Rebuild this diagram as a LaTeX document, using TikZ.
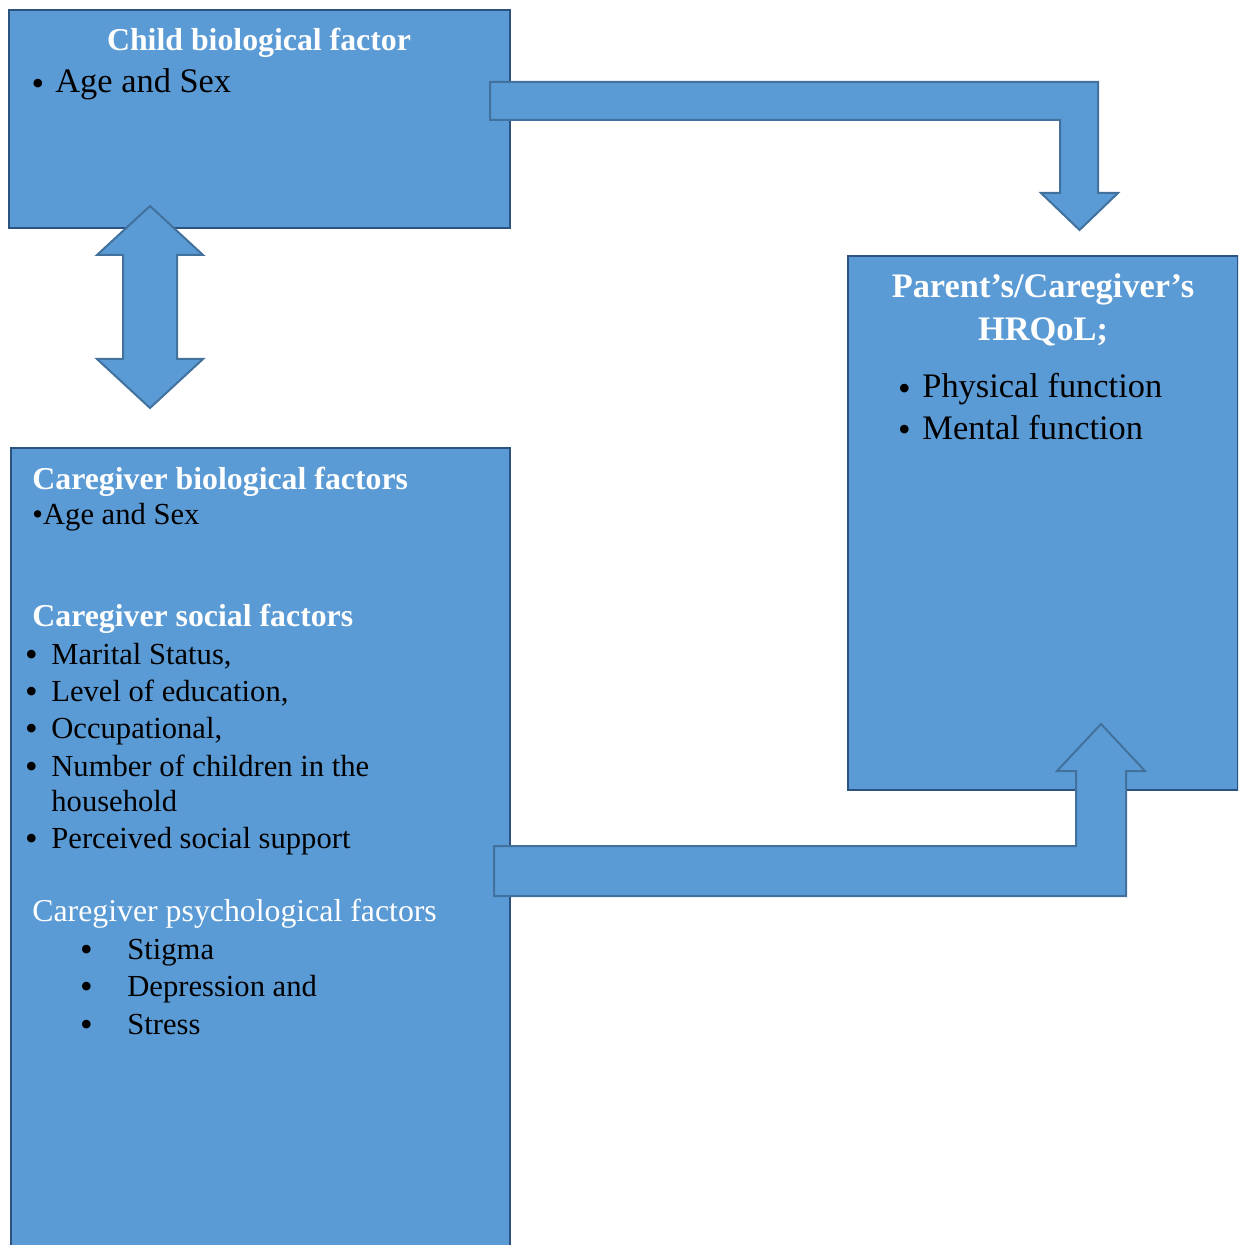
\documentclass[tikz,border=0pt]{standalone}
\usepackage{fontspec}
\setmainfont{Liberation Serif}
\usetikzlibrary{positioning}
\definecolor{sky}{RGB}{91,155,213}
\definecolor{deepsea}{RGB}{44,82,128}
\definecolor{steel}{RGB}{65,113,156}
\newcommand{\itembullet}[1]{\makebox[#1][l]{\fontsize{18}{18}\selectfont\raisebox{-1.1pt}{\textbullet}}}

\begin{document}
\begin{tikzpicture}[x=0.5pt,y=-0.5pt,
    panel/.style={fill=sky,draw=deepsea,line width=1pt,anchor=north west,inner sep=0pt},
    blockarrow/.style={fill=sky,draw=steel,line width=1pt,line join=miter},
    bighead/.style={font=\fontsize{17.2}{20}\selectfont\bfseries,text=white,anchor=base,inner sep=0pt},
    head/.style={font=\fontsize{15.9}{19}\selectfont\bfseries,text=white,anchor=base west,inner sep=0pt},
    bigitem/.style={font=\fontsize{17.2}{20}\selectfont,anchor=base west,inner sep=0pt},
    item/.style={font=\fontsize{15.3}{18}\selectfont,anchor=base west,inner sep=0pt}]
  \clip (0,0) rectangle (1238,1245);
  % boxes
  \node[panel,minimum width=250.5pt,minimum height=109pt] (child) at (8,9) {};
  \node[panel,minimum width=249.5pt,minimum height=420pt] (carer) at (10,447) {};
  \node[panel,minimum width=195pt,minimum height=267pt] (hrqol) at (847,255) {};
  % block arrows
  \draw[blockarrow] (490,82) -- (1098,82) -- (1098,193) -- (1118,193) -- (1079.5,230)
    -- (1041,193) -- (1060,193) -- (1060,120) -- (490,120) -- cycle;
  \draw[blockarrow] (150,206) -- (203,255) -- (177,255) -- (177,359) -- (203,359) -- (150,408)
    -- (97,359) -- (123,359) -- (123,255) -- (97,255) -- cycle;
  \draw[blockarrow] (494,846) -- (1076,846) -- (1076,771) -- (1057,771) -- (1101,724)
    -- (1145,771) -- (1126,771) -- (1126,896) -- (494,896) -- cycle;
  % child box
  \node[head,anchor=base] (childhead) at (259,51) {Child biological factor};
  \node[bigitem] (childage) at (31.2,93) {\itembullet{11.9pt}Age and Sex};
  % outcome box
  \node[bighead] (hrqolhead) at (1043,298) {Parent’s/Caregiver’s};
  \node[bighead] (hrqolhead2) at (1043,341) {HRQoL;};
  \foreach \y/\t in {398/Physical function,439/Mental function}{
    \node[bigitem] at (897.7,\y) {\itembullet{12.15pt}\t};
  }
  % caregiver box
  \node[head] (biohead) at (32,489) {Caregiver biological factors};
  \node[item] (bioage) at (32,524) {\textbullet Age and Sex};
  \node[head] (sochead) at (32,626) {Caregiver social factors};
  \foreach \y/\t in {664/{Marital Status,},701/{Level of education,},738/{Occupational,},
                     776/{Number of children in the},848/{Perceived social support}}{
    \node[item] at (24.7,\y) {\itembullet{13.15pt}\t};
  }
  \node[item] (household) at (51,811) {household};
  \node[item,font=\fontsize{15.9}{19}\selectfont,text=white] (psyhead) at (32,921) {Caregiver psychological factors};
  \foreach \y/\t in {959/Stigma,996/Depression and,1034/Stress}{
    \node[item] at (79.7,\y) {\itembullet{23.65pt}\t};
  }
\end{tikzpicture}
\end{document}
